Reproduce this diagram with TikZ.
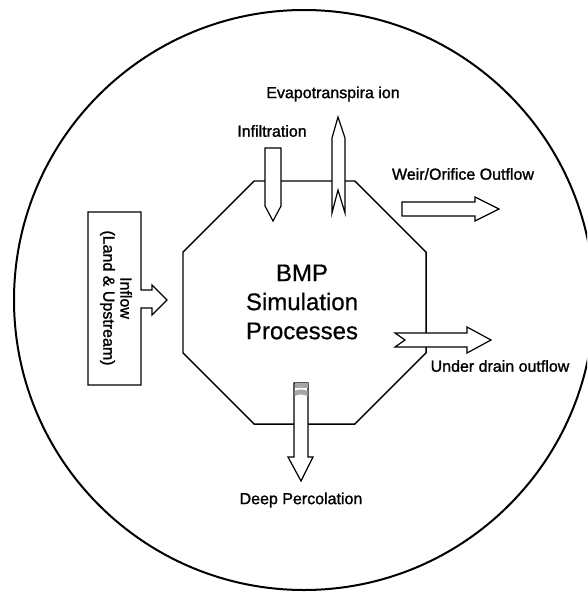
\documentclass[tikz,border=0pt]{standalone}
\usepackage{fontspec}
\setmainfont{Liberation Sans}
\newfontfamily\lblfont[FakeBold=1.3]{Liberation Sans}
\newfontfamily\bigfont[FakeBold=0.6]{Liberation Sans}
\usetikzlibrary{shapes.geometric}
\begin{document}
\begin{tikzpicture}[x=0.75pt,y=-0.75pt,
  arrowshape/.style={draw=black, line width=0.9pt, fill=white, line join=miter},
  lbl/.style={font=\lblfont\fontsize{12}{14}\selectfont, inner sep=0pt},
  bigtxt/.style={font=\bigfont\fontsize{18}{21.75}\selectfont, align=center}]
\useasboundingbox (0,0) rectangle (587,592);
\clip (0,0) rectangle (587,592);
\fill[white] (0,0) rectangle (587,592);
% outer circle
\draw[line width=1.5pt] (304,300) circle[radius=217.5pt];
% octagon
\node[regular polygon, regular polygon sides=8, minimum size=197.3pt, draw, line width=1.1pt, inner sep=0pt] (bmp) at (304.5,302.5) {};
\node[bigtxt] (bmptxt) at (302,302) {BMP\\Simulation\\Processes};
% inflow box with arrow
\draw[arrowshape] (88,212) -- (141,212) -- (141,290) -- (152,290) -- (152,285) -- (167,300) -- (152,315) -- (152,308) -- (141,308) -- (141,385) -- (88,385) -- cycle;
\node[lbl, rotate=-90, align=center, font=\lblfont\fontsize{12}{12.8}\selectfont] (inflow) at (116,298) {Inflow\\(Land \& Upstream)};
% infiltration
\draw[arrowshape] (265,148) -- (281,148) -- (281,206) -- (273,221) -- (265,206) -- cycle;
\node[lbl] (infil) at (272,131) {Infiltration};
% evapotranspiration
\draw[arrowshape] (338,117) -- (345,138) -- (345,213) -- (338,190) -- (332,213) -- (332,138) -- cycle;
\node[lbl] (evap) at (333,94) {Evapotranspira ion};
% weir
\draw[arrowshape] (402,202) -- (475,202) -- (475,197) -- (499,209) -- (475,221) -- (475,216) -- (402,216) -- cycle;
\node[lbl] (weir) at (463,174) {Weir/Orifice Outflow};
% under drain
\draw[arrowshape] (395,333) -- (467,333) -- (467,327) -- (491,340) -- (467,353) -- (467,347) -- (395,347) -- (405,340) -- cycle;
\node[lbl] (under) at (500,366) {Under drain outflow};
% deep percolation
\draw[arrowshape] (294,383) -- (308,383) -- (308,457) -- (313,457) -- (301,481) -- (288,457) -- (294,457) -- cycle;
\fill[gray!70] (294.5,383) rectangle (307.5,388);
\fill[gray!70] (294.5,391) .. controls (298,389) and (304,389) .. (307.5,391) -- (307.5,396) .. controls (304,394) and (298,394) .. (294.5,396) -- cycle;
\node[lbl] (deep) at (301,500) {Deep Percolation};
\end{tikzpicture}
\end{document}
